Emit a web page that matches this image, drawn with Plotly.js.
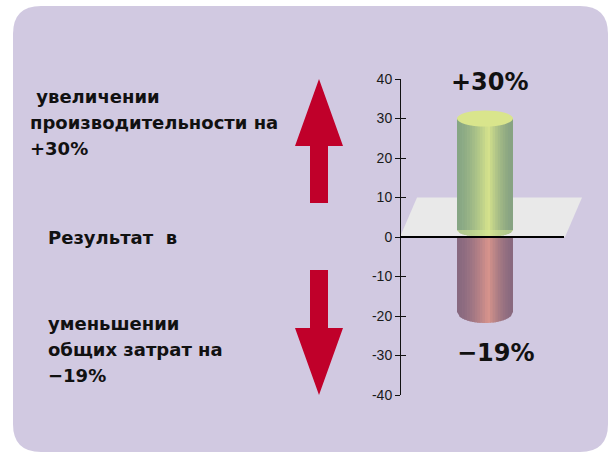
<!DOCTYPE html>
<html>
<head>
<meta charset="utf-8">
<script src="https://cdn.plot.ly/plotly-3.0.1.min.js"></script>
<style>html,body{margin:0;padding:0;background:#fff;}#chart{width:609px;height:452px;}</style>
</head>
<body>
<div id="chart"></div>
<script>
// ---- data ----
const categories = ['Производительность', 'Общие затраты'];
const values = [30, -19];
const tickVals = [-40, -30, -20, -10, 0, 10, 20, 30, 40];
const tickText = ['-40', '-30', '-20', '-10', '0', '10', '20', '30', '40'];
const upperText = [' увеличении', 'производительности на', '+30%'];
const middleText = ['Результат  в'];
const lowerText = ['уменьшении', 'общих затрат на', '\u221219%'];

// ---- layout helpers (pixel geometry) ----
const W = 609, H = 452;
const plotTop = 79, plotBot = 395;
const pxPerUnit = (plotBot - plotTop) / 80;
const px = p => p / W;                       // pixel x -> paper
const py = p => (plotBot - p) / (plotBot - plotTop); // pixel y -> paper
const axisX = 400;
const cx = 485, rx = 28;

function hexToRgb(h){h=h.replace('#','');return [0,2,4].map(i=>parseInt(h.substr(i,2),16));}
function mix(a,b,t){const A=hexToRgb(a),B=hexToRgb(b);return 'rgb('+A.map((v,i)=>Math.round(v+(B[i]-v)*t)).join(',')+')';}

const palettes = [
  {edgeL:'#86a684', edgeR:'#86a282', mid:'#d6e38c', top:'#d9e58c', ry:8},
  {edgeL:'#87687f', edgeR:'#88697e', mid:'#d8948c', top:'#d8948c', ry:11}
];

const traces = [];
const shapes = [];
const N = 22;
const ell = (u, r) => Math.sqrt(Math.max(0, 1 - u * u)) * r;
values.forEach((v, k) => {
  const pal = palettes[k];
  const ryU = pal.ry / pxPerUnit;
  const by = 7 / pxPerUnit; // bottom face radius for the upright cylinder
  for (let i = 0; i < N; i++) {
    const xa = cx - rx + i * 2 * rx / N;
    const xb = Math.min(cx + rx, xa + 2 * rx / N + 0.7);
    const t = (i + 0.5) / N;
    const peak = 0.56;
    const d = t < peak ? (peak - t) / peak : (t - peak) / (1 - peak);
    const s = Math.pow(1 - d, 1.6);
    const col = mix(t < peak ? pal.edgeL : pal.edgeR, pal.mid, s);
    const ua = (xa - cx) / rx, ub = (xb - cx) / rx;
    let xs, ys;
    if (v >= 0) {
      xs = [xa, xa, xb, xb, xa];
      ys = [by - ell(ua, by), v, v, by - ell(ub, by), by - ell(ua, by)];
    } else {
      xs = [xa, xb, xb, xa, xa];
      ys = [0, 0, v - ell(ub, ryU), v - ell(ua, ryU), 0];
    }
    traces.push({x: xs, y: ys, type: 'scatter', mode: 'lines', fill: 'toself',
      fillcolor: col, line: {width: 0}, hoverinfo: 'skip', showlegend: false,
      name: categories[k]});
  }
  if (v >= 0) {
    // top cap
    shapes.push({type: 'circle', xref: 'x', yref: 'y', x0: cx - rx, x1: cx + rx,
      y0: v - ryU, y1: v + ryU, fillcolor: pal.top, line: {width: 0}, layer: 'above'});
    // lower half of the bottom face, seen through
    const c = 0.552;
    shapes.push({type: 'path', xref: 'x', yref: 'y', layer: 'above',
      path: `M${cx - rx},${by} C${cx - rx},${by - c * by} ${cx - c * rx},0 ${cx},0 C${cx + c * rx},0 ${cx + rx},${by - c * by} ${cx + rx},${by} Z`,
      fillcolor: 'rgba(214,232,150,0.5)', line: {width: 0}});
  }
});
// dummy trace for tick overlay axis
traces.push({x: [null], y: [null], yaxis: 'y2', type: 'scatter', mode: 'markers', hoverinfo: 'skip', showlegend: false});

// panel background (rounded rect)
const L = 13, T = 6, R = 608, B = 452, r = 28;
shapes.unshift({type: 'path', xref: 'paper', yref: 'paper', layer: 'below', fillcolor: '#d1c9e1', line: {width: 0},
  path: `M${px(L + r)},${py(T)} L${px(R - r)},${py(T)} Q${px(R)},${py(T)} ${px(R)},${py(T + r)} L${px(R)},${py(B - r)} Q${px(R)},${py(B)} ${px(R - r)},${py(B)} L${px(L + r)},${py(B)} Q${px(L)},${py(B)} ${px(L)},${py(B - r)} L${px(L)},${py(T + r)} Q${px(L)},${py(T)} ${px(L + r)},${py(T)} Z`});
// plane
shapes.splice(1, 0, {type: 'path', xref: 'x', yref: 'y', layer: 'below', fillcolor: '#e9e9e9', line: {width: 0},
  path: `M${axisX},0 L565,0 L582,10 L417,10 Z`});
// zero line
shapes.push({type: 'line', xref: 'x', yref: 'y', x0: axisX, x1: 564, y0: 0, y1: 0, line: {color: '#000', width: 2}, layer: 'above'});
// arrows
const red = '#c0002a';
const ax = 319;
shapes.push({type: 'path', xref: 'paper', yref: 'paper', layer: 'above', fillcolor: red, line: {width: 0},
  path: `M${px(ax)},${py(79)} L${px(343)},${py(146)} L${px(328)},${py(146)} L${px(328)},${py(203)} L${px(310)},${py(203)} L${px(310)},${py(146)} L${px(295)},${py(146)} Z`});
shapes.push({type: 'path', xref: 'paper', yref: 'paper', layer: 'above', fillcolor: red, line: {width: 0},
  path: `M${px(ax)},${py(395)} L${px(343)},${py(328)} L${px(328)},${py(328)} L${px(328)},${py(270)} L${px(310)},${py(270)} L${px(310)},${py(328)} L${px(295)},${py(328)} Z`});

// annotations
const textFont = {family: 'DejaVu Sans', size: 18, color: '#111', weight: 'bold'};
const ann = [];
const addLines = (lines, x, ys) => lines.forEach((s, i) => ann.push({text: s, x: px(x), y: py(ys[i]), xref: 'paper', yref: 'paper',
  xanchor: 'left', yanchor: 'middle', showarrow: false, font: textFont}));
addLines(upperText, 28, [97, 123, 148]);
addLines(middleText, 46, [237]);
addLines(lowerText, 46, [323, 349, 375]);
const fmt = v => (v >= 0 ? '+' : '\u2212') + Math.abs(v) + '%';
values.forEach((v, k) => {
  ann.push({text: fmt(v), x: cx + (v >= 0 ? 5 : 11), y: v, xref: 'x', yref: 'y', showarrow: false,
    yshift: v >= 0 ? 37 : -41, xanchor: 'center', yanchor: 'middle',
    font: {family: 'DejaVu Sans', size: 24, color: '#111', weight: 'bold'}});
});

const layout = {
  width: W, height: H,
  margin: {l: 0, r: 0, t: plotTop, b: H - plotBot, pad: 0},
  paper_bgcolor: '#ffffff', plot_bgcolor: 'rgba(0,0,0,0)',
  showlegend: false,
  xaxis: {range: [0, W], visible: false, fixedrange: true},
  yaxis: {range: [-40, 40], anchor: 'free', position: axisX / W, showline: true, linecolor: '#111', linewidth: 1,
    ticks: 'outside', ticklen: 5, tickcolor: '#111', tickwidth: 1, tickvals: tickVals, ticktext: tickText,
    showgrid: false, zeroline: false, tickfont: {family: 'Liberation Sans', size: 14, color: '#1a1a1a'}},
  yaxis2: {range: [-40, 40], overlaying: 'y', anchor: 'free', position: axisX / W, showline: false,
    ticks: 'inside', ticklen: 5, tickcolor: '#111', tickwidth: 1, tickvals: tickVals, showticklabels: false,
    showgrid: false, zeroline: false},
  shapes: shapes,
  annotations: ann
};
Plotly.newPlot('chart', traces, layout, {staticPlot: true, displayModeBar: false});
</script>
</body>
</html>
